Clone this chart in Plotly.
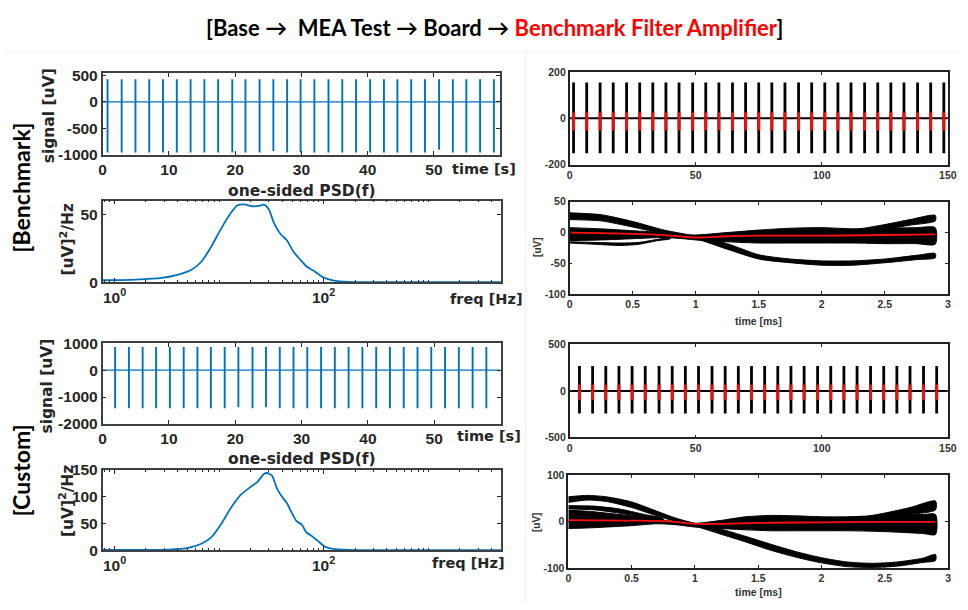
import math
import plotly.graph_objects as go

W, H = 968, 610

# ---------------- DATA ----------------
# Benchmark raw signal: spike times [s] and extremes [uV]
bench_spike_t = [0.74, 2.87, 4.95, 7.03, 9.11, 11.19, 13.27, 15.35, 17.43, 19.56,
                 21.55, 23.68, 25.76, 27.84, 29.87, 31.95, 34.08, 36.16, 38.24, 40.37,
                 42.45, 44.48, 46.56, 48.64, 50.77, 52.85, 54.88, 56.96, 59.04]
bench_spike_max = [430] * 29
bench_spike_min = [-955, -955, -955, -955, -955, -955, -955, -955, -955, -955,
                   -955, -955, -930, -955, -955, -955, -955, -955, -955, -955,
                   -955, -955, -955, -955, -905, -955, -955, -955, -955]

# Benchmark PSD
bench_psd_f = [0.77, 1.59, 2.84, 4.07, 5.44, 6.76, 8.41, 10.4, 13.0, 15.0, 17.3, 20.8,
               24.0, 26.8, 29.9, 33.3, 38.5, 44.5, 51.4, 59.4, 68.7, 82.2, 98.6, 122,
               176, 300, 1000, 5000]
bench_psd_v = [1.4, 1.9, 3.1, 5.5, 9.1, 15, 26, 39, 51, 56.5, 57.2, 55.8,
               56, 57, 53.6, 44, 35.6, 30.8, 22.4, 16.8, 11.5, 7.9, 3.6, 1.4,
               0.2, 0.05, 0.0, 0.0]

# Benchmark sorted spike train (sample index /1000) and amplitudes
bench_train_x = [1.57, 6.78, 12.1, 17.3, 22.6, 27.8, 33.0, 38.2, 43.4, 48.8, 54.0, 59.2,
                 64.6, 69.8, 75.0, 80.2, 85.4, 90.8, 96.0, 101.2, 106.4, 111.6, 117.0,
                 122.2, 127.4, 132.6, 138.0, 143.2, 148.4]
bench_train_hi, bench_train_lo = 155, -151
bench_train_red_hi, bench_train_red_lo = 27, -53

# Benchmark spike waveforms (bands of overlaid waveforms) [ms] / [uV]
bw_t = [0, 0.25, 0.5, 0.75, 0.9, 1.0, 1.25, 1.5, 1.75, 2.0, 2.25, 2.5, 2.75, 2.9]
bw_a_up = [32, 29, 18, 4, -2, -6, -18, -36, -43, -46, -46, -43, -37, -34]
bw_a_lo = [21, 19, 9, -2, -7, -10, -27, -43, -49, -53, -53, -49, -44, -41]
bw_b_up = [8, 6, 3, 0, -3, -4, 0, 4, 7, 8, 6, 7, 8, 8]
bw_b_lo = [-13, -12, -10, -8, -10, -12, -15, -17, -17, -17, -17, -18, -18, -19]
bw_c_t = [0, 0.2, 0.4, 0.55, 0.7, 0.8]
bw_c_up = [-15, -16, -17, -16, -11, -8]
bw_c_lo = [-17, -19, -21, -19, -13, -10]
bw_d_t = [2.1, 2.3, 2.5, 2.7, 2.9]
bw_d_up = [3, 6, 13, 21, 28]
bw_d_lo = [-3, 0, 5, 12, 19]
bw_mean_t = [0, 0.25, 0.5, 0.75, 1.0, 1.25, 1.5, 2.0, 2.5, 2.9]
bw_mean_v = [0, -1, -2, -4, -8, -6, -5, -5, -4, -3]

# Custom raw signal
cust_spike_t = [1.88, 3.96, 6.03, 8.06, 10.14, 12.22, 14.29, 16.32, 18.40, 20.47,
                22.60, 24.63, 26.71, 28.78, 30.86, 32.94, 35.01, 37.09, 39.17, 41.25,
                43.32, 45.40, 47.48, 49.55, 51.63, 53.71, 55.79, 57.86]
cust_spike_max = [870] * 28
cust_spike_min = [-1420, -1420, -1420, -1420, -1420, -1420, -1420, -1420, -1420, -1380,
                  -1420, -1380, -1420, -1420, -1420, -1420, -1420, -1420, -1420, -1420,
                  -1420, -1420, -1420, -1420, -1420, -1420, -1420, -1420]

# Custom PSD
cust_psd_f = [0.77, 3.28, 5.06, 6.76, 8.41, 10.4, 13.0, 16.1, 20.0, 23.2, 26.8, 28.8,
              32.1, 35.8, 39.9, 44.5, 49.5, 55.2, 61.5, 68.7, 76.5, 88.5, 102, 122,
              176, 300, 1000, 5000]
cust_psd_v = [0.6, 1.2, 4.2, 12, 24, 48, 79, 103, 118, 127, 142, 144,
              139, 115, 100, 88, 70, 54, 48, 33, 27, 17, 7, 2.4,
              0.6, 0.1, 0.0, 0.0]

# Custom sorted spike train
cust_train_x = [3.91, 9.13, 14.35, 19.57, 24.78, 30.0, 35.48, 40.70, 45.91, 51.13,
                56.48, 61.70, 66.91, 72.13, 77.35, 82.56, 87.78, 93.0, 98.35, 103.57,
                108.78, 114.0, 119.35, 124.57, 129.78, 135.0, 140.35, 145.57]
cust_train_hi, cust_train_lo = 268, -244
cust_train_red_hi, cust_train_red_lo = 70, -98

# Custom spike waveforms
cw_t = [0, 0.15, 0.3, 0.5, 0.7, 0.85, 1.0, 1.2, 1.4, 1.6, 1.8, 2.0, 2.2, 2.4, 2.6, 2.8, 2.9]
cw_a_up = [53, 56, 53, 42, 22, 7, -4, -16, -32, -49, -65, -78, -87, -90, -87, -79, -71]
cw_a_lo = [41, 46, 43, 30, 12, 0, -10, -27, -44, -62, -77, -89, -97, -99, -96, -88, -84]
cw_a2_t = [0, 0.2, 0.4, 0.6, 0.75]
cw_a2_up = [34, 33, 27, 15, 6]
cw_a2_lo = [27, 25, 18, 8, 0]
cw_b_up = [24, 22, 18, 12, 5, -1, -4, 2, 10, 13, 12, 10, 10, 12, 14, 15, 15]
cw_b_lo = [-15, -14, -12, -9, -5, -7, -12, -15, -18, -20, -20, -20, -20, -21, -23, -26, -28]
cw_d_t = [2.3, 2.5, 2.7, 2.9]
cw_d_up = [8, 18, 30, 44]
cw_d_lo = [0, 6, 15, 25]
cw_mean_t = [0, 0.5, 0.8, 1.0, 1.2, 1.5, 2.0, 2.5, 2.9]
cw_mean_v = [3, 2, 0, -5, -5, -3, -2, -1, -1]

# Tick labels
sig1_ticks = [-1000, -500, 0, 500]
sig2_ticks = [-2000, -1000, 0, 1000]
t_vals = [0, 10, 20, 30, 40, 50, 60]
t_text = ['0', '10', '20', '30', '40', '50', '']

# ---------------- HELPERS ----------------
def px(x):
    return x / W

def py(y):
    return 1 - y / H

def spikes(ts, lo, hi):
    xs, ys = [], []
    los = lo if isinstance(lo, list) else [lo] * len(ts)
    his = hi if isinstance(hi, list) else [hi] * len(ts)
    for t, a, b in zip(ts, los, his):
        xs += [t, t, None]
        ys += [a, b, None]
    return xs, ys

def band(t, up, lo):
    return list(t) + list(t)[::-1], list(up) + list(lo)[::-1]

def lbl(vals):
    return ['<b>' + str(v) + '</b>' for v in vals]

BLUE = '#0072BD'
RED = 'rgba(255,15,15,0.92)'
fig = go.Figure()

# Panel 1: benchmark raw signal
fig.add_trace(go.Scatter(x=[0, 59.9], y=[0, 0], mode='lines', line=dict(color=BLUE, width=1.2),
                         xaxis='x', yaxis='y'))
sx, sy = spikes(bench_spike_t, bench_spike_min, bench_spike_max)
fig.add_trace(go.Scatter(x=sx, y=sy, mode='lines', line=dict(color=BLUE, width=1.9),
                         xaxis='x', yaxis='y'))

# Panel 2: benchmark PSD
fig.add_trace(go.Scatter(x=bench_psd_f, y=bench_psd_v, mode='lines',
                         line=dict(color=BLUE, width=1.8, shape='spline', smoothing=0.6),
                         xaxis='x2', yaxis='y2'))

# Panel 3: benchmark spike train
fig.add_trace(go.Scatter(x=[0, 150], y=[0, 0], mode='lines', line=dict(color='black', width=2),
                         xaxis='x3', yaxis='y3'))
sx, sy = spikes(bench_train_x, bench_train_lo, bench_train_hi)
fig.add_trace(go.Scatter(x=sx, y=sy, mode='lines', line=dict(color='black', width=2.8),
                         xaxis='x3', yaxis='y3'))
sx, sy = spikes(bench_train_x, bench_train_red_lo, bench_train_red_hi)
fig.add_trace(go.Scatter(x=sx, y=sy, mode='lines', line=dict(color=RED, width=3),
                         xaxis='x3', yaxis='y3'))

# Panel 4: benchmark waveforms
for t, up, lo in [(bw_t, bw_a_up, bw_a_lo), (bw_t, bw_b_up, bw_b_lo),
                  (bw_c_t, bw_c_up, bw_c_lo), (bw_d_t, bw_d_up, bw_d_lo)]:
    bx, by = band(t, up, lo)
    fig.add_trace(go.Scatter(x=bx, y=by, mode='lines', fill='toself', fillcolor='black',
                             line=dict(color='black', width=1, shape='spline', smoothing=0.7),
                             xaxis='x4', yaxis='y4'))
fig.add_trace(go.Scatter(x=bw_mean_t, y=bw_mean_v, mode='lines',
                         line=dict(color='#ff1010', width=1.8, shape='spline'),
                         xaxis='x4', yaxis='y4'))

# Panel 5: custom raw signal
fig.add_trace(go.Scatter(x=[0, 59.9], y=[0, 0], mode='lines', line=dict(color=BLUE, width=1.2),
                         xaxis='x5', yaxis='y5'))
sx, sy = spikes(cust_spike_t, cust_spike_min, cust_spike_max)
fig.add_trace(go.Scatter(x=sx, y=sy, mode='lines', line=dict(color=BLUE, width=1.9),
                         xaxis='x5', yaxis='y5'))

# Panel 6: custom PSD
fig.add_trace(go.Scatter(x=cust_psd_f, y=cust_psd_v, mode='lines',
                         line=dict(color=BLUE, width=1.8, shape='spline', smoothing=0.6),
                         xaxis='x6', yaxis='y6'))

# Panel 7: custom spike train
fig.add_trace(go.Scatter(x=[0, 150], y=[0, 0], mode='lines', line=dict(color='black', width=2),
                         xaxis='x7', yaxis='y7'))
sx, sy = spikes(cust_train_x, cust_train_lo, cust_train_hi)
fig.add_trace(go.Scatter(x=sx, y=sy, mode='lines', line=dict(color='black', width=2.8),
                         xaxis='x7', yaxis='y7'))
sx, sy = spikes(cust_train_x, cust_train_red_lo, cust_train_red_hi)
fig.add_trace(go.Scatter(x=sx, y=sy, mode='lines', line=dict(color=RED, width=3),
                         xaxis='x7', yaxis='y7'))

# Panel 8: custom waveforms
for t, up, lo in [(cw_t, cw_a_up, cw_a_lo), (cw_t, cw_b_up, cw_b_lo),
                  (cw_a2_t, cw_a2_up, cw_a2_lo), (cw_d_t, cw_d_up, cw_d_lo)]:
    bx, by = band(t, up, lo)
    fig.add_trace(go.Scatter(x=bx, y=by, mode='lines', fill='toself', fillcolor='black',
                             line=dict(color='black', width=1, shape='spline', smoothing=0.7),
                             xaxis='x8', yaxis='y8'))
fig.add_trace(go.Scatter(x=cw_mean_t, y=cw_mean_v, mode='lines',
                         line=dict(color='#ff1010', width=1.8, shape='spline'),
                         xaxis='x8', yaxis='y8'))

# ---------------- AXES ----------------
DARK = '#262626'
LFONT = dict(family='Liberation Sans', size=15.5, color=DARK)
RFONT = dict(family='Liberation Sans', size=10.5, color='#333333')

def lax(**kw):
    d = dict(showline=True, linewidth=1.6, linecolor='#404040', mirror='allticks',
             ticks='inside', ticklen=4, tickwidth=1, tickcolor=DARK, showgrid=False,
             zeroline=False, tickfont=dict(LFONT), fixedrange=True, tickmode='array')
    d.update(kw)
    return d

def rax(**kw):
    d = dict(showline=True, linewidth=1.5, linecolor='#222222', mirror='allticks',
             ticks='inside', ticklen=3, tickwidth=1, tickcolor='#222222', showgrid=False,
             zeroline=False, tickfont=dict(RFONT), fixedrange=True, tickmode='array')
    d.update(kw)
    if 'tickvals' in d and 'ticktext' not in d:
        d['ticktext'] = lbl(d['tickvals'])
    return d

def dom(a, b, size):
    return [a / size, b / size]

def ydom(top, bottom):
    return [1 - bottom / H, 1 - top / H]

minor_vals = [m * 10 ** k for k in range(-1, 4) for m in range(1, 10)]
minor_vals = [v for v in minor_vals if v not in (1, 100)]

layout = dict(
    width=W, height=H, autosize=False, margin=dict(l=0, r=0, t=0, b=0),
    paper_bgcolor='white', plot_bgcolor='white', showlegend=False,
    font=dict(family='Liberation Sans', color=DARK),
    xaxis=lax(domain=dom(100, 503, W), range=[0, 60], tickvals=t_vals, ticktext=lbl(t_text),
              anchor='y', ticklabelstandoff=0),
    yaxis=lax(domain=ydom(66, 150), range=[-1000, 545], tickvals=sig1_ticks,
              ticktext=lbl(sig1_ticks), anchor='x'),
    xaxis2=lax(domain=dom(100, 504, W), type='log',
               range=[math.log10(0.77), math.log10(5000)], tickvals=[1, 100],
               ticktext=['<b>10<sup>0</sup></b>', '<b>10<sup>2</sup></b>'], anchor='y2',
               minor=dict(tickvals=minor_vals, ticks='inside', ticklen=2, tickcolor=DARK)),
    yaxis2=lax(domain=ydom(197, 281), range=[0, 60], tickvals=[0, 50],
               ticktext=lbl([0, 50]), anchor='x2'),
    xaxis3=rax(domain=dom(573.3, 956.7, W), range=[0, 150], tickvals=[0, 50, 100, 150], anchor='y3'),
    yaxis3=rax(domain=ydom(65, 160), range=[-200, 200], tickvals=[-200, 0, 200], anchor='x3'),
    xaxis4=rax(domain=dom(573.3, 956.7, W), range=[0, 3],
               tickvals=[0, 0.5, 1, 1.5, 2, 2.5, 3], anchor='y4'),
    yaxis4=rax(domain=ydom(198.3, 293.3), range=[-100, 50], tickvals=[-100, -50, 0, 50], anchor='x4'),
    xaxis5=lax(domain=dom(100, 503.3, W), range=[0, 60], tickvals=t_vals, ticktext=lbl(t_text),
               anchor='y5', ticklabelstandoff=0),
    yaxis5=lax(domain=ydom(344, 426.7), range=[-2000, 1000],
               tickvals=sig2_ticks, ticktext=lbl(sig2_ticks), anchor='x5'),
    xaxis6=lax(domain=dom(100, 504, W), type='log',
               range=[math.log10(0.77), math.log10(5000)], tickvals=[1, 100],
               ticktext=['<b>10<sup>0</sup></b>', '<b>10<sup>2</sup></b>'], anchor='y6',
               minor=dict(tickvals=minor_vals, ticks='inside', ticklen=2, tickcolor=DARK)),
    yaxis6=lax(domain=ydom(474, 556.7), range=[0, 150], tickvals=[0, 50, 100, 150],
               ticktext=lbl([0, 50, 100, 150]), anchor='x6'),
    xaxis7=rax(domain=dom(573.3, 956.7, W), range=[0, 150], tickvals=[0, 50, 100, 150], anchor='y7'),
    yaxis7=rax(domain=ydom(345, 440.7), range=[-500, 500], tickvals=[-500, 0, 500], anchor='x7'),
    xaxis8=rax(domain=dom(572, 957, W), range=[0, 3],
               tickvals=[0, 0.5, 1, 1.5, 2, 2.5, 3], anchor='y8'),
    yaxis8=rax(domain=ydom(479.3, 575), range=[-100, 100], tickvals=[-100, 0, 100], anchor='x8'),
)
fig.update_layout(**layout)

# ---------------- ANNOTATIONS ----------------
def ann(text, x, y, size, family='DejaVu Sans', color=DARK, angle=0, xanchor='center'):
    return dict(text=f'<b>{text}</b>', x=px(x), y=py(y),
                xref='paper', yref='paper', showarrow=False, textangle=angle,
                xanchor=xanchor, yanchor='middle',
                font=dict(family=family, size=size, color=color))

annotations = [
    ann("[Base →  MEA Test → Board → <span style='color:#ff0000'>Benchmark Filter Amplifier</span>]",
        497, 19, 22, family='Lato', color='black'),
    ann('[Benchmark]', 17, 184, 23, family='Lato', color='black', angle=-90),
    ann('[Custom]', 17, 475, 23, family='Lato', color='black', angle=-90),
    ann('signal [uV]', 46, 110, 15.5, angle=-90),
    ann('signal [uV]', 44, 388, 15.5, angle=-90),
    ann('[uV]<sup>2</sup>/Hz', 64, 237, 15.5, angle=-90),
    ann('[uV]<sup>2</sup>/Hz', 64, 506, 15.5, angle=-90),
    ann('one-sided PSD(f)', 302, 187, 15.5),
    ann('one-sided PSD(f)', 302, 463, 15.5),
    ann('time [s]', 487, 165, 14.5),
    ann('time [s]', 492, 439, 14.5),
    ann('freq [Hz]', 489, 298, 14.5),
    ann('freq [Hz]', 471, 570, 14.5),
    ann('time [ms]', 765, 321, 10.5, family='Liberation Sans', color='#333333'),
    ann('time [ms]', 765, 600, 10.5, family='Liberation Sans', color='#333333'),
    ann('[uV]', 540, 245, 10, family='Liberation Sans', color='#333333', angle=-90),
    ann('[uV]', 540, 528, 10, family='Liberation Sans', color='#333333', angle=-90),
]
fig.update_layout(annotations=annotations)

# faint image-separator lines of the original composite
fig.update_layout(shapes=[
    dict(type='line', xref='paper', yref='paper', x0=px(529), x1=px(529), y0=py(45), y1=py(610),
         line=dict(color='#ececec', width=1)),
    dict(type='line', xref='paper', yref='paper', x0=0, x1=1, y0=py(44), y1=py(44),
         line=dict(color='#f0f0f0', width=1)),
])

fig.write_html('out.html')
